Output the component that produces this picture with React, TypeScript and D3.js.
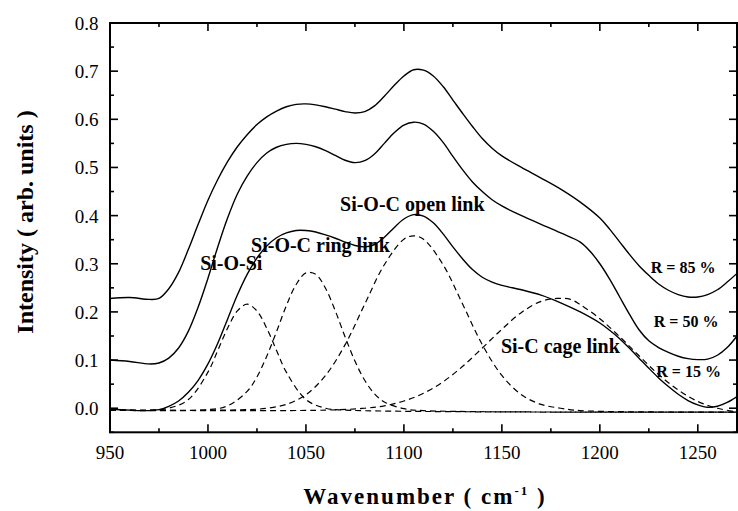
import React from "react";
import * as d3 from "d3";

// FTIR spectra (wavenumber, intensity) for three R ratios
const specR85: [number, number][] = [
  [950, 0.228], [960, 0.230], [970, 0.226], [975, 0.228], [980, 0.248], [985, 0.282],
  [990, 0.330], [995, 0.382], [1000, 0.432], [1005, 0.475], [1010, 0.512], [1015, 0.543],
  [1020, 0.568], [1025, 0.589], [1030, 0.605], [1035, 0.617], [1040, 0.626], [1045, 0.631],
  [1050, 0.632], [1055, 0.630], [1060, 0.626], [1065, 0.621], [1070, 0.616], [1075, 0.613],
  [1080, 0.616], [1085, 0.628], [1090, 0.648], [1095, 0.670], [1100, 0.690], [1105, 0.703],
  [1110, 0.702], [1115, 0.690], [1120, 0.668], [1125, 0.640], [1130, 0.612], [1135, 0.585],
  [1140, 0.560], [1145, 0.540], [1150, 0.524], [1160, 0.500], [1170, 0.478], [1180, 0.455],
  [1190, 0.428], [1200, 0.395], [1205, 0.372], [1210, 0.346], [1215, 0.320], [1220, 0.296],
  [1225, 0.276], [1230, 0.258], [1235, 0.245], [1240, 0.236], [1245, 0.231], [1250, 0.231],
  [1255, 0.236], [1260, 0.246], [1265, 0.262], [1270, 0.280],
];

const specR50: [number, number][] = [
  [950, 0.100], [960, 0.097], [970, 0.092], [975, 0.094], [980, 0.104], [985, 0.125],
  [990, 0.160], [995, 0.210], [1000, 0.270], [1005, 0.335], [1010, 0.395], [1015, 0.445],
  [1020, 0.482], [1025, 0.510], [1030, 0.530], [1035, 0.542], [1040, 0.548], [1045, 0.550],
  [1050, 0.548], [1055, 0.543], [1060, 0.535], [1065, 0.525], [1070, 0.515], [1075, 0.510],
  [1080, 0.514], [1085, 0.528], [1090, 0.550], [1095, 0.572], [1100, 0.588], [1105, 0.594],
  [1110, 0.590], [1115, 0.575], [1120, 0.552], [1125, 0.523], [1130, 0.495], [1135, 0.470],
  [1140, 0.450], [1145, 0.433], [1150, 0.420], [1160, 0.400], [1170, 0.382], [1180, 0.364],
  [1190, 0.345], [1195, 0.326], [1200, 0.300], [1205, 0.268], [1210, 0.232], [1215, 0.196],
  [1220, 0.163], [1225, 0.140], [1230, 0.126], [1235, 0.116], [1240, 0.108], [1245, 0.103],
  [1250, 0.101], [1255, 0.102], [1260, 0.110], [1265, 0.126], [1270, 0.150],
];

const specR15: [number, number][] = [
  [950, -0.002], [960, -0.004], [970, -0.005], [975, -0.003], [980, 0.004], [985, 0.015],
  [990, 0.033], [995, 0.058], [1000, 0.092], [1005, 0.135], [1010, 0.185], [1015, 0.235],
  [1020, 0.278], [1025, 0.312], [1030, 0.337], [1035, 0.354], [1040, 0.364], [1045, 0.369],
  [1050, 0.369], [1055, 0.366], [1060, 0.360], [1065, 0.353], [1070, 0.345], [1075, 0.338],
  [1080, 0.335], [1085, 0.340], [1090, 0.355], [1095, 0.375], [1100, 0.393], [1105, 0.402],
  [1110, 0.399], [1115, 0.385], [1120, 0.362], [1125, 0.335], [1130, 0.310], [1135, 0.288],
  [1140, 0.272], [1145, 0.262], [1150, 0.255], [1160, 0.246], [1170, 0.235], [1180, 0.219],
  [1190, 0.200], [1200, 0.177], [1205, 0.162], [1210, 0.145], [1215, 0.125], [1220, 0.104],
  [1225, 0.083], [1230, 0.063], [1235, 0.045], [1240, 0.029], [1245, 0.016], [1250, 0.007],
  [1255, 0.002], [1260, 0.004], [1265, 0.012], [1270, 0.024],
];

// Fitted component bands (dashed)
const bandSiOSi: [number, number][] = [
  [950, -0.004], [970, -0.004], [980, 0.000], [990, 0.018], [1000, 0.075], [1005, 0.120],
  [1010, 0.166], [1015, 0.202], [1020, 0.216], [1025, 0.202], [1030, 0.166], [1035, 0.120],
  [1040, 0.075], [1050, 0.018], [1060, 0.000], [1070, -0.004], [1270, -0.008],
];

const bandRing: [number, number][] = [
  [950, -0.004], [1000, -0.003], [1010, 0.005], [1020, 0.035], [1025, 0.065], [1030, 0.108],
  [1035, 0.159], [1040, 0.213], [1045, 0.257], [1050, 0.281], [1055, 0.278], [1060, 0.249],
  [1065, 0.202], [1070, 0.148], [1075, 0.098], [1080, 0.058], [1085, 0.030], [1090, 0.013],
  [1100, -0.001], [1110, -0.005], [1270, -0.008],
];

const bandOpen: [number, number][] = [
  [950, -0.004], [1020, -0.003], [1030, 0.000], [1040, 0.008], [1050, 0.028], [1060, 0.068],
  [1070, 0.132], [1080, 0.216], [1090, 0.298], [1100, 0.351], [1105, 0.358], [1110, 0.351],
  [1120, 0.298], [1130, 0.216], [1140, 0.132], [1150, 0.068], [1160, 0.028], [1170, 0.008],
  [1180, 0.000], [1190, -0.005], [1270, -0.008],
];

const bandCage: [number, number][] = [
  [950, -0.004], [1060, -0.004], [1080, 0.000], [1090, 0.005], [1100, 0.015], [1110, 0.031],
  [1120, 0.055], [1130, 0.087], [1140, 0.125], [1150, 0.164], [1160, 0.199], [1170, 0.222],
  [1178, 0.228], [1185, 0.226], [1190, 0.215], [1200, 0.186], [1210, 0.149], [1220, 0.109],
  [1230, 0.070], [1240, 0.038], [1250, 0.014], [1260, 0.000], [1270, -0.008],
];

const xTickValues = [950, 1000, 1050, 1100, 1150, 1200, 1250];
const xMinorValues = [975, 1025, 1075, 1125, 1175, 1225];
const yTickValues = [0.0, 0.1, 0.2, 0.3, 0.4, 0.5, 0.6, 0.7, 0.8];
const yMinorValues = [-0.05, 0.05, 0.15, 0.25, 0.35, 0.45, 0.55, 0.65, 0.75];

const bandLabels = [
  { text: "Si-O-Si", x: 996, y: 0.288 },
  { text: "Si-O-C ring link", x: 1022, y: 0.325 },
  { text: "Si-O-C open link", x: 1067.4, y: 0.41 },
  { text: "Si-C cage link", x: 1149.5, y: 0.115 },
];
const ratioLabels = [
  { text: "R = 85 %", x: 1226, y: 0.281 },
  { text: "R = 50 %", x: 1227.5, y: 0.169 },
  { text: "R = 15 %", x: 1228.8, y: 0.064 },
];

const W = 738;
const H = 511;
const left = 110;
const right = 737;
const top = 23;
const bottom = 432.3;
const SERIF = '"Liberation Serif", "Times New Roman", Times, "DejaVu Serif", serif';

export default function App() {
  const x = d3.scaleLinear().domain([950, 1270]).range([left, right]);
  const y = d3.scaleLinear().domain([-0.05, 0.8]).range([bottom, top]);
  const line = d3
    .line<[number, number]>()
    .x((d) => x(d[0]))
    .y((d) => y(d[1]))
    .curve(d3.curveCatmullRom.alpha(0.5));

  const solid = [specR85, specR50, specR15];
  const dashed = [bandSiOSi, bandRing, bandOpen, bandCage];
  const txt = { fontFamily: SERIF };

  return (
    <svg
      width={W}
      height={H}
      style={{ position: "absolute", left: 0, top: 0, background: "#fff", fontFamily: SERIF }}
    >
      <rect width={W} height={H} fill="#fff" />
      <defs>
        <clipPath id="plot">
          <rect x={left} y={top} width={right - left} height={bottom - top} />
        </clipPath>
      </defs>

      <g clipPath="url(#plot)" fill="none" stroke="#000">
        {dashed.map((d, i) => (
          <path key={"b" + i} d={line(d) ?? ""} strokeWidth={1.2} strokeDasharray="6,4" />
        ))}
        {solid.map((d, i) => (
          <path key={"s" + i} d={line(d) ?? ""} strokeWidth={1.4} />
        ))}
      </g>

      {/* frame */}
      <rect x={left} y={top} width={right - left} height={bottom - top} fill="none" stroke="#000" strokeWidth={2} />

      {/* ticks pointing inward on all sides */}
      <g stroke="#000" strokeWidth={1.6}>
        {xTickValues.map((v) => (
          <g key={"xt" + v}>
            <line x1={x(v)} x2={x(v)} y1={bottom} y2={bottom - 8} />
            <line x1={x(v)} x2={x(v)} y1={top} y2={top + 8} />
          </g>
        ))}
        {xMinorValues.map((v) => (
          <g key={"xm" + v}>
            <line x1={x(v)} x2={x(v)} y1={bottom} y2={bottom - 4} />
            <line x1={x(v)} x2={x(v)} y1={top} y2={top + 4} />
          </g>
        ))}
        {yTickValues.map((v) => (
          <g key={"yt" + v}>
            <line x1={left} x2={left + 8} y1={y(v)} y2={y(v)} />
            <line x1={right} x2={right - 8} y1={y(v)} y2={y(v)} />
          </g>
        ))}
        {yMinorValues.map((v) => (
          <g key={"ym" + v}>
            <line x1={left} x2={left + 4} y1={y(v)} y2={y(v)} />
            <line x1={right} x2={right - 4} y1={y(v)} y2={y(v)} />
          </g>
        ))}
      </g>

      {/* tick labels */}
      <g fontSize={19} fill="#000">
        {xTickValues.map((v) => (
          <text key={"xl" + v} x={x(v)} y={459} textAnchor="middle" style={txt}>
            {v}
          </text>
        ))}
        {yTickValues.map((v) => (
          <text key={"yl" + v} x={98.5} y={y(v) + 7} textAnchor="end" style={txt}>
            {d3.format(".1f")(v)}
          </text>
        ))}
      </g>

      {/* axis titles */}
      <text x={425} y={504} textAnchor="middle" fontSize={23} fontWeight="bold" letterSpacing={2} style={txt}>
        Wavenumber ( cm
        <tspan dy={-9} fontSize={13}>-1</tspan>
        <tspan dy={9}> )</tspan>
      </text>
      <text
        transform="translate(33,222) rotate(-90)"
        textAnchor="middle"
        fontSize={24}
        fontWeight="bold"
        style={txt}
      >
        Intensity ( arb. units )
      </text>

      {/* band annotations */}
      <g fontWeight="bold" fontSize={20}>
        {bandLabels.map((l) => (
          <text key={l.text} x={x(l.x)} y={y(l.y)} style={txt}>
            {l.text}
          </text>
        ))}
      </g>
      <g fontWeight="bold" fontSize={16}>
        {ratioLabels.map((l) => (
          <text key={l.text} x={x(l.x)} y={y(l.y)} style={txt}>
            {l.text}
          </text>
        ))}
      </g>
    </svg>
  );
}
